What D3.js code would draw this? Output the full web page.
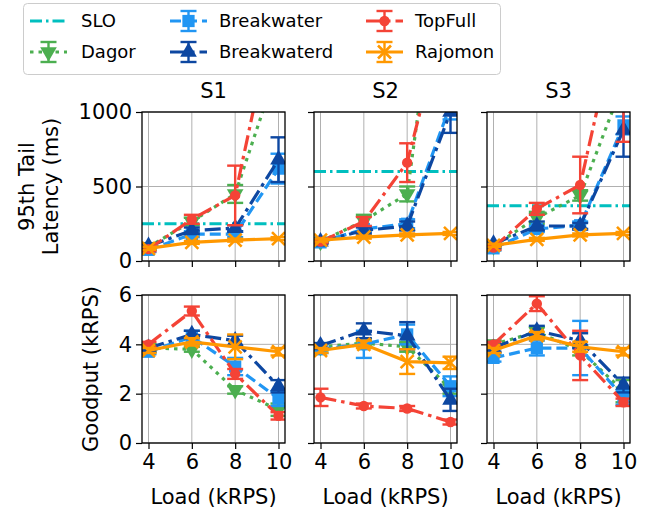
<!DOCTYPE html>
<html>
<head>
<meta charset="utf-8">
<script src="https://cdn.jsdelivr.net/npm/d3@7"></script>
<style>
body { margin: 0; background: #fff; }
text { font-family: "DejaVu Sans", sans-serif; fill: #000; }
</style>
</head>
<body>
<div id="wrapper"></div>
<script>
const loads = [4, 6, 8, 10]
const scenarios = ["S1", "S2", "S3"]
const systems = ["Dagor", "Breakwater", "Breakwaterd", "TopFull", "Rajomon"]
const sloLatency = [250, 600, 370]
const latencyTicks = [0, 500, 1000]
const goodputTicks = [0, 2, 4, 6]

// one row per scenario (S1, S2, S3), one value per load
const dagorLatency = [[95, 265, 450, 1320], [130, 270, 450, 2600], [100, 290, 440, 1200]]
const dagorLatencyErr = [[20, 25, 60, 0], [10, 40, 50, 0], [15, 40, 35, 0]]
const breakwaterLatency = [[75, 180, 180, 620], [125, 215, 250, 1050], [85, 215, 240, 910]]
const breakwaterLatencyErr = [[15, 20, 20, 100], [10, 20, 30, 100], [15, 20, 25, 60]]
const breakwaterdLatency = [[100, 205, 220, 680], [130, 205, 235, 1000], [115, 235, 235, 880]]
const breakwaterdLatencyErr = [[15, 20, 20, 150], [10, 20, 30, 140], [15, 30, 20, 180]]
const topfullLatency = [[80, 280, 440, 1800], [130, 265, 660, 1800], [90, 350, 510, 1800]]
const topfullLatencyErr = [[15, 30, 200, 0], [10, 30, 130, 750], [15, 40, 190, 1000]]
const rajomonLatency = [[85, 125, 140, 150], [140, 160, 175, 185], [105, 145, 175, 185]]
const rajomonLatencyErr = [[10, 10, 10, 10], [10, 10, 10, 10], [10, 10, 10, 10]]

const dagorGoodput = [[3.85, 3.8, 2.15, 1.35], [3.9, 4.05, 3.9, 2.2], [4.0, 4.5, 3.75, 2.1]]
const dagorGoodputErr = [[0.15, 0.1, 0.15, 0.25], [0.15, 0.1, 0.2, 0.2], [0.15, 0.2, 0.2, 0.45]]
const breakwaterGoodput = [[3.7, 4.3, 3.1, 1.8], [3.8, 4.0, 4.4, 2.3], [3.45, 3.85, 3.85, 1.85]]
const breakwaterGoodputErr = [[0.1, 0.25, 0.35, 0.3], [0.15, 0.55, 0.4, 0.4], [0.15, 0.3, 1.1, 0.3]]
const breakwaterdGoodput = [[3.85, 4.4, 4.15, 2.3], [3.95, 4.55, 4.35, 1.75], [3.85, 4.55, 4.15, 2.35]]
const breakwaterdGoodputErr = [[0.1, 0.15, 0.2, 0.25], [0.1, 0.3, 0.55, 0.45], [0.15, 0.2, 0.3, 0.3]]
const topfullGoodput = [[4.0, 5.35, 2.8, 1.1], [1.85, 1.5, 1.4, 0.85], [4.0, 5.65, 3.55, 1.65]]
const topfullGoodputErr = [[0.1, 0.18, 0.2, 0.15], [0.35, 0.1, 0.1, 0.1], [0.1, 0.3, 1.0, 0.15]]
const rajomonGoodput = [[3.75, 4.1, 3.9, 3.7], [3.75, 4.0, 3.3, 3.25], [3.75, 4.35, 3.9, 3.7]]
const rajomonGoodputErr = [[0.1, 0.15, 0.5, 0.15], [0.1, 0.15, 0.5, 0.25], [0.1, 0.15, 0.2, 0.15]]

const latencyBySystem = {
    Dagor: [dagorLatency, dagorLatencyErr],
    Breakwater: [breakwaterLatency, breakwaterLatencyErr],
    Breakwaterd: [breakwaterdLatency, breakwaterdLatencyErr],
    TopFull: [topfullLatency, topfullLatencyErr],
    Rajomon: [rajomonLatency, rajomonLatencyErr],
}
const goodputBySystem = {
    Dagor: [dagorGoodput, dagorGoodputErr],
    Breakwater: [breakwaterGoodput, breakwaterGoodputErr],
    Breakwaterd: [breakwaterdGoodput, breakwaterdGoodputErr],
    TopFull: [topfullGoodput, topfullGoodputErr],
    Rajomon: [rajomonGoodput, rajomonGoodputErr],
}

const styles = {
    SLO: { color: "#00bfbf", dash: "12,4,2.5,4", marker: null },
    Dagor: { color: "#4caf50", dash: "3.5,5", marker: "tridown" },
    Breakwater: { color: "#2196f3", dash: "11,5", marker: "square" },
    Breakwaterd: { color: "#0d47a1", dash: "16,5,3.5,5", marker: "triup" },
    TopFull: { color: "#f44336", dash: "16,5,3.5,5", marker: "circle" },
    Rajomon: { color: "#ff9800", dash: null, marker: "x" },
}

const dimensions = { width: 651, height: 512 }
const panelLefts = [142, 314, 487]
const panelWidth = 143
const rowsLayout = [
    { top: 112, height: 149, domain: [0, 1000], ticks: latencyTicks, bySystem: latencyBySystem },
    { top: 295, height: 148, domain: [0, 6], ticks: goodputTicks, bySystem: goodputBySystem },
]

const svg = d3.select("#wrapper").append("svg")
    .attr("width", dimensions.width)
    .attr("height", dimensions.height)

const xScale = d3.scaleLinear().domain([3.7, 10.3]).range([0, panelWidth])

function drawMarker(g, kind, color) {
    if (kind === "x") {
        g.append("path")
            .attr("d", "M-6.5,-6.5L6.5,6.5M-6.5,6.5L6.5,-6.5")
            .attr("stroke", color).attr("stroke-width", 2.6).attr("fill", "none")
        return
    }
    const types = { square: d3.symbolSquare, circle: d3.symbolCircle, triup: d3.symbolTriangle, tridown: d3.symbolTriangle }
    const sizes = { square: 150, circle: 85, triup: 120, tridown: 120 }
    g.append("path")
        .attr("d", d3.symbol().type(types[kind]).size(sizes[kind])())
        .attr("transform", kind === "tridown" ? "rotate(180)" : null)
        .attr("fill", color)
}

function drawErrorBar(g, x, y0, y1, color) {
    g.append("line").attr("x1", x).attr("x2", x).attr("y1", y0).attr("y2", y1)
        .attr("stroke", color).attr("stroke-width", 2.4)
    for (const y of [y0, y1]) {
        g.append("line").attr("x1", x - 8).attr("x2", x + 8).attr("y1", y).attr("y2", y)
            .attr("stroke", color).attr("stroke-width", 2.4)
    }
}

rowsLayout.forEach((row, ri) => {
    const yScale = d3.scaleLinear().domain(row.domain).range([row.height, 0])
    scenarios.forEach((scenario, si) => {
        const bounds = svg.append("g")
            .attr("transform", `translate(${panelLefts[si]},${row.top})`)
        const clipId = `clip-${ri}-${si}`
        bounds.append("clipPath").attr("id", clipId)
            .append("rect").attr("width", panelWidth).attr("height", row.height)

        // grid
        const grid = bounds.append("g")
        grid.selectAll(".gx").data(loads).join("line")
            .attr("x1", d => xScale(d)).attr("x2", d => xScale(d))
            .attr("y1", 0).attr("y2", row.height)
            .attr("stroke", "#b0b0b0").attr("stroke-width", 1)
        grid.selectAll(".gy").data(row.ticks).join("line")
            .attr("x1", 0).attr("x2", panelWidth)
            .attr("y1", d => yScale(d)).attr("y2", d => yScale(d))
            .attr("stroke", "#b0b0b0").attr("stroke-width", 1)

        const plot = bounds.append("g").attr("clip-path", `url(#${clipId})`)

        if (ri === 0) {
            const s = styles.SLO
            plot.append("line")
                .attr("x1", 0).attr("x2", panelWidth)
                .attr("y1", yScale(sloLatency[si])).attr("y2", yScale(sloLatency[si]))
                .attr("stroke", s.color).attr("stroke-width", 3)
                .attr("stroke-dasharray", s.dash)
        }

        systems.forEach(sys => {
            const st = styles[sys]
            const values = row.bySystem[sys][0][si]
            const errs = row.bySystem[sys][1][si]
            const pts = loads.map((l, i) => ({ x: l, y: values[i], e: errs[i] }))
            const g = plot.append("g")
            g.append("path")
                .datum(pts)
                .attr("d", d3.line().x(d => xScale(d.x)).y(d => yScale(d.y)))
                .attr("fill", "none")
                .attr("stroke", st.color)
                .attr("stroke-width", 3.2)
                .attr("stroke-dasharray", st.dash)
            pts.forEach(d => {
                if (d.e > 0) drawErrorBar(g, xScale(d.x), yScale(d.y - d.e), yScale(d.y + d.e), st.color)
            })
            pts.forEach(d => {
                const m = g.append("g").attr("transform", `translate(${xScale(d.x)},${yScale(d.y)})`)
                drawMarker(m, st.marker, st.color)
            })
        })

        // axes
        const yAxis = d3.axisLeft(yScale).tickValues(row.ticks).tickSize(6).tickPadding(4)
            .tickFormat(si > 0 ? "" : d3.format("d"))
        bounds.append("g").call(yAxis)
            .call(a => a.select(".domain").remove())
            .call(a => a.selectAll("line").attr("stroke-width", 1.2))
            .call(a => a.selectAll("text").style("font-size", "21px").style("font-family", "DejaVu Sans"))

        const xAxis = d3.axisBottom(xScale).tickValues(loads).tickSize(6).tickPadding(5)
            .tickFormat(ri === 0 ? "" : d3.format("d"))
        bounds.append("g").attr("transform", `translate(0,${row.height})`).call(xAxis)
            .call(a => a.select(".domain").remove())
            .call(a => a.selectAll("line").attr("stroke-width", 1.2))
            .call(a => a.selectAll("text").style("font-size", "21px").style("font-family", "DejaVu Sans"))

        bounds.append("rect")
            .attr("width", panelWidth).attr("height", row.height)
            .attr("fill", "none").attr("stroke", "#000").attr("stroke-width", 1.3)

        if (ri === 0) {
            bounds.append("text")
                .attr("x", panelWidth / 2).attr("y", -14)
                .attr("text-anchor", "middle")
                .style("font-size", "21px")
                .text(scenario)
        } else {
            bounds.append("text")
                .attr("x", panelWidth / 2).attr("y", row.height + 54)
                .attr("dy", "0.35em")
                .attr("text-anchor", "middle")
                .style("font-size", "21px")
                .text("Load (kRPS)")
        }
    })
})

// y labels
const yLab = (x, y, label) => svg.append("text")
    .attr("transform", `translate(${x},${y}) rotate(-90)`)
    .attr("dy", "0.35em")
    .attr("text-anchor", "middle")
    .style("font-size", "21px")
    .text(label)
yLab(27, 186.5, "95th Tail")
yLab(51, 186.5, "Latency (ms)")
yLab(91, 369, "Goodput (kRPS)")

// legend
const legend = svg.append("g")
legend.append("rect")
    .attr("x", 23.5).attr("y", 3.5).attr("width", 477).attr("height", 71).attr("rx", 4)
    .attr("fill", "#fff").attr("fill-opacity", 0.8)
    .attr("stroke", "#cccccc").attr("stroke-width", 1)
const legendItems = ["SLO", "Dagor", "Breakwater", "Breakwaterd", "TopFull", "Rajomon"]
const handleX = [30, 170, 366]
const textX = [81, 219, 415]
const rowY = [21, 52]
legendItems.forEach((name, i) => {
    const col = Math.floor(i / 2), r = i % 2
    const st = styles[name]
    const g = legend.append("g").attr("transform", `translate(${handleX[col]},${rowY[r]})`)
    g.append("line").attr("x1", 0).attr("x2", 37).attr("y1", 0).attr("y2", 0)
        .attr("stroke", st.color).attr("stroke-width", 3.2)
        .attr("stroke-dasharray", st.dash)
    if (st.marker) {
        drawErrorBar(g, 18.5, -10, 10, st.color)
        drawMarker(g.append("g").attr("transform", "translate(18.5,0)"), st.marker, st.color)
    }
    legend.append("text")
        .attr("x", textX[col]).attr("y", rowY[r])
        .attr("dy", "0.35em")
        .style("font-size", "18px")
        .text(name)
})
</script>
</body>
</html>
